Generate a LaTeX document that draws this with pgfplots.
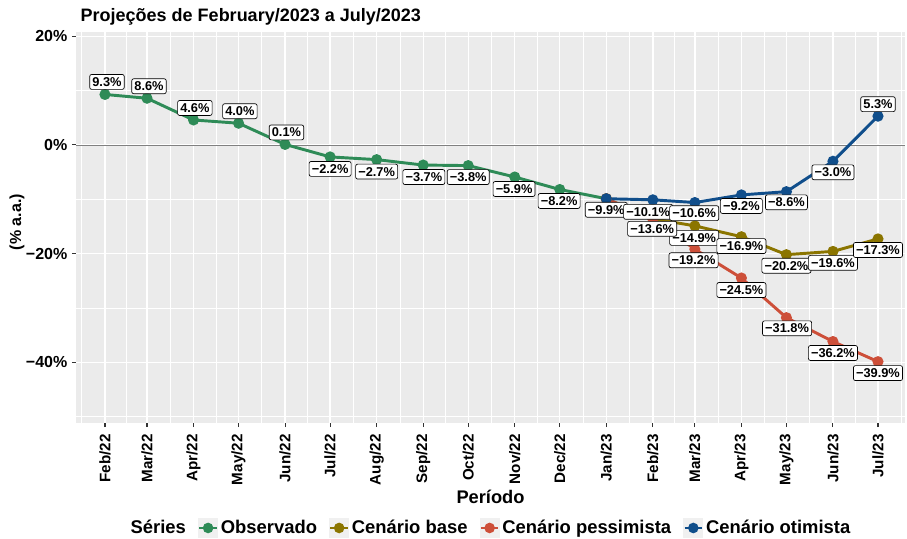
\documentclass[border=0pt]{standalone}
\usepackage{fontspec}
\setmainfont{Liberation Sans}
\usepackage{pgfplots}
\usepackage{pgfplotstable}
\pgfplotsset{compat=1.18}
\definecolor{obs}{HTML}{2E8B57}
\definecolor{base}{HTML}{8B7500}
\definecolor{pess}{HTML}{CD4F39}
\definecolor{otim}{HTML}{104E8B}
\definecolor{panel}{HTML}{EBEBEB}
\definecolor{grey20}{HTML}{333333}

% x = days since 1 Feb 2022
\pgfplotstableread{
x y
0 9.3
28 8.6
59 4.6
89 4.0
120 0.1
150 -2.2
181 -2.7
212 -3.7
242 -3.8
273 -5.9
303 -8.2
334 -9.9
}\observado

\pgfplotstableread{
x y
334 -9.9
365 -13.6
393 -14.9
424 -16.9
454 -20.2
485 -19.6
515 -17.3
}\cenbase

\pgfplotstableread{
x y
334 -9.9
365 -13.6
393 -19.2
424 -24.5
454 -31.8
485 -36.2
515 -39.9
}\cenpess

\pgfplotstableread{
x y
334 -9.9
365 -10.1
393 -10.6
424 -9.2
454 -8.6
485 -3.0
515 5.3
}\cenotim

% label offsets dx, dy in pt
\pgfplotstableread{
x y dx dy lab
0 9.3 1.5 9.4 9.3
28 8.6 1.5 9 8.6
59 4.6 1 9 4.6
89 4.0 1 9 4.0
120 0.1 1 9 0.1
150 -2.2 0 -9 −2.2
181 -2.7 0 -9 −2.7
212 -3.7 0.5 -9 −3.7
242 -3.8 0 -8.6 −3.8
273 -5.9 -0.5 -9 −5.9
303 -8.2 -0.5 -8.6 −8.2
334 -9.9 0 -8.3 −9.9
393 -14.9 -0.5 -9 −14.9
424 -16.9 0 -7 −16.9
454 -20.2 0 -8.3 −20.2
485 -19.6 0 -8.6 −19.6
515 -17.3 0 -8.3 −17.3
365 -10.1 -3.5 -9 −10.1
393 -10.6 -0.5 -8 −10.6
424 -9.2 0 -8.3 −9.2
454 -8.6 0 -8 −8.6
485 -3.0 0 -8.3 −3.0
515 5.3 0 9 5.3
365 -13.6 -0.5 -7.5 −13.6
393 -19.2 -1 -8.3 −19.2
424 -24.5 0 -9 −24.5
454 -31.8 0.5 -8 −31.8
485 -36.2 0 -8.6 −36.2
515 -39.9 0 -8.6 −39.9
}\rotulos

\begin{document}
\begin{tikzpicture}
\begin{axis}[name=ax,
  scale only axis, width=621.75pt, height=293.25pt,
  xmin=-19.3, xmax=533, ymin=-51.2, ymax=20.8,
  axis background/.style={fill=panel},
  axis line style={draw=none},
  clip=false,
  xtick={0,28,59,89,120,150,181,212,242,273,303,334,365,393,424,454,485,515},
  xticklabels={Feb/22,Mar/22,Apr/22,May/22,Jun/22,Jul/22,Aug/22,Sep/22,Oct/22,Nov/22,Dec/22,Jan/23,Feb/23,Mar/23,Apr/23,May/23,Jun/23,Jul/23},
  minor xtick={-15.5,14,43.5,74,104.5,135,165.5,196.5,227,257.5,288,318.5,349.5,379,408.5,439,469.5,500,530.5},
  ytick={-40,-20,0,20},
  yticklabels={−40\%,−20\%,0\%,20\%},
  minor ytick={-50,-30,-10,10},
  grid=both,
  major grid style={white, line width=1pt},
  minor grid style={white, line width=0.5pt},
  tick align=outside, major tick length=3pt, minor tick length=0pt,
  tick style={color=grey20, line width=0.8pt},
  xtick pos=left, ytick pos=left,
  xticklabel style={rotate=90, anchor=east, xshift=-2pt, font=\fontsize{11.4}{13}\selectfont\bfseries},
  yticklabel style={font=\fontsize{12}{14}\selectfont\bfseries},
  title={Projeções de February/2023 a July/2023},
  title style={at={(0,1)}, anchor=base west, yshift=2.2pt, font=\fontsize{13.5}{16}\selectfont\bfseries},
  xlabel={Período},
  xlabel style={at={(axis description cs:0.5,0)}, anchor=center, yshift=-55.5pt, font=\fontsize{13.7}{16}\selectfont\bfseries},
  ylabel={(\% a.a.)},
  ylabel style={at={(axis description cs:0,0.5)}, anchor=center, yshift=44.25pt, xshift=4pt, font=\fontsize{12}{14}\selectfont\bfseries},
  legend columns=-1,
  legend style={at={(0.5,-0.2685)}, anchor=center, draw=none, fill=none,
    font=\fontsize{13.8}{16}\selectfont\bfseries,
    /tikz/every even column/.append style={column sep=7pt}},
  legend image code/.code={
    \fill[gray!12] (0pt,-6.5pt) rectangle (13pt,6.5pt);
    \draw[line width=1.5pt] (0pt,0pt) -- (13pt,0pt);
    \fill (6.5pt,0pt) circle (2.8pt);},
  every axis plot/.append style={line width=2.2pt, mark=*, mark size=3pt},
]
\addplot[gray, line width=0.6pt, mark=none, forget plot] coordinates {(-19.3,0) (533,0)};
\addlegendimage{empty legend}
\addlegendentry{Séries}
\addplot[color=obs] table[x=x,y=y] {\observado};
\addlegendentry{Observado}
\addplot[color=base] table[x=x,y=y] {\cenbase};
\addlegendentry{Cenário base}
\addplot[color=pess] table[x=x,y=y] {\cenpess};
\addlegendentry{Cenário pessimista}
\addplot[color=otim] table[x=x,y=y] {\cenotim};
\addlegendentry{Cenário otimista}
\addplot[draw=none, mark=none, forget plot,
  point meta=explicit symbolic,
  visualization depends on={\thisrow{dx}\as\ldx},
  visualization depends on={\thisrow{dy}\as\ldy},
  nodes near coords={\pgfplotspointmeta\%},
  nodes near coords style={anchor=center, xshift={\ldx pt}, yshift={\ldy pt},
    draw=black, fill=white, rounded corners=1.5pt, line width=0.5pt,
    inner xsep=2pt, inner ysep=2.2pt, text=black,
    font=\fontsize{9.6}{10}\selectfont\bfseries}]
  table[x=x,y=y,meta=lab] {\rotulos};
\end{axis}
\pgfresetboundingbox
\path ([xshift=-57pt,yshift=-87pt]ax.south west) rectangle ([xshift=1.5pt,yshift=24pt]ax.north east);
\end{tikzpicture}
\end{document}
